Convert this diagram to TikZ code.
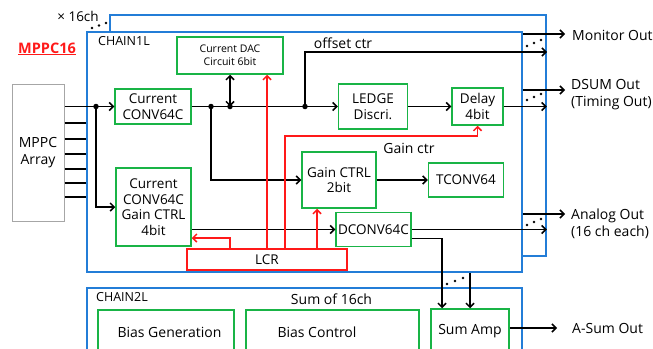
\documentclass[tikz,border=0pt]{standalone}
\usepackage{fontspec}
\setmainfont{Open Sans}
\usepackage{xcolor}
\usetikzlibrary{positioning, calc, arrows.meta}

\definecolor{grn}{RGB}{25,180,70}
\definecolor{blu}{RGB}{35,125,215}
\definecolor{rd}{RGB}{255,25,25}

\begin{document}
\begin{tikzpicture}[
        x=1pt, y=-1pt,
        blk/.style = {rectangle, draw=grn, line width=1.5pt, fill=white, align=center, inner sep=1pt, font=\fontsize{13.5}{15.5}\selectfont},
        chain/.style = {rectangle, draw=blu, line width=1.5pt, fill=white},
        lcrbox/.style = {rectangle, draw=rd, line width=1.5pt, fill=white, align=center, font=\fontsize{13.5}{15.5}\selectfont},
        sensor/.style = {rectangle, draw=gray!70, line width=1pt, align=center, font=\fontsize{14}{17}\selectfont},
        lbl/.style = {inner sep=0pt, align=left, font=\fontsize{14}{17}\selectfont},
        wire/.style = {line width=1.5pt},
        arrow/.style = {line width=1.5pt, -{Straight Barb[length=4pt, width=8pt]}},
        bidi/.style = {line width=1.5pt, {Straight Barb[length=4pt, width=8pt]}-{Straight Barb[length=4pt, width=8pt]}},
        ctrl/.style = {line width=1.5pt, draw=rd, -{Straight Barb[length=4pt, width=8pt]}},
        jdot/.style = {circle, fill=black, inner sep=0pt, minimum size=5.5pt}
    ]

    \useasboundingbox (0,0) rectangle (653,348);

    % --- CHAIN FRAMES ---
    % back copy (x16) first, front chain on top
    \node[chain, minimum width=436pt, minimum height=241pt] (chainb) at (328,135.5) {};
    \node[chain, minimum width=435pt, minimum height=240pt] (chaina) at (304.5,152) {};
    \node[chain, minimum width=435pt, minimum height=80pt, anchor=north west] (chainc) at (86,287) {};

    \node[inner sep=0pt, font=\fontsize{12.5}{14}\selectfont] (c1name) at (124,41.5) {CHAIN1L};
    \node[inner sep=0pt, font=\fontsize{12.5}{14}\selectfont] (c2name) at (122,297.5) {CHAIN2L};
    \node[anchor=base, inner sep=0pt, text=rd, font=\bfseries\fontsize{14.5}{17}\selectfont] (mppcname) at (47,53) {\underline{MPPC16}};
    \node[anchor=base, inner sep=0pt, font=\fontsize{13.5}{16}\selectfont] (nch) at (78,21) {× 16ch};

    % --- BLOCKS ---
    \node[sensor, minimum width=52pt, minimum height=137pt] (mppc) at (38,152.5) {MPPC\\Array};
    \node[blk, minimum width=76pt, minimum height=35pt] (conv) at (153,106.5) {Current\\CONV64C};
    \node[blk, minimum width=106pt, minimum height=37pt, font=\fontsize{10.5}{13}\selectfont] (dac) at (230,55.5) {Current DAC\\Circuit 6bit};
    \node[blk, minimum width=69pt, minimum height=45pt, right=146pt of conv] (ledge) {LEDGE\\Discri.};
    \node[blk, minimum width=51pt, minimum height=37pt, right=43pt of ledge] (delay) {Delay\\4bit};
    \node[blk, minimum width=74pt, minimum height=56pt] (gctrl) at (339,180) {Gain CTRL\\2bit};
    \node[blk, minimum width=75pt, minimum height=34pt, right=51pt of gctrl] (tconv) {TCONV64};
    \node[blk, minimum width=75pt, minimum height=78pt] (cgain) at (153.5,207) {Current\\CONV64C\\Gain CTRL\\4bit};
    \node[blk, minimum width=75pt, minimum height=34pt, inner sep=0pt] (dconv) at (373.5,229.5) {DCONV64C};
    \node[lcrbox, minimum width=160pt, minimum height=21pt] (lcr) at (267,259.5) {LCR};

    % Sum chain blocks (cut by the lower edge)
    \node[blk, minimum width=136pt, minimum height=44pt, font=\fontsize{14}{17}\selectfont] (biasgen) at (166,332) {\hspace*{7pt}Bias Generation};
    \node[blk, minimum width=173pt, minimum height=44pt, font=\fontsize{14}{17}\selectfont] (biasctl) at (332.5,332) {Bias Control\hspace*{31pt}};
    \node[blk, minimum width=78pt, minimum height=44pt, font=\fontsize{14}{17}\selectfont] (sum) at (470,331) {Sum Amp};

    % --- CONNECTIONS ---
    % MPPC Array -> chain inputs
    \draw[arrow] (mppc.east |- conv.west) -- (conv.west);
    \foreach \y in {123,139,154,169,183,197}
        \draw[wire] (mppc.east |- 0,\y) -- (chaina.west |- 0,\y);
    \node[jdot] (j1) at (96,0 |- conv.west) {};
    \draw[arrow] (j1.center) |- (cgain.west);

    % main signal line
    \node[jdot] (j2) at (211,0 |- conv.east) {};
    \node[jdot] (j3) at (dac.south |- conv.east) {};
    \node[jdot] (j4) at (305,0 |- conv.east) {};
    \draw[arrow] (conv) -- (ledge);
    \draw[bidi] (dac.south) -- (j3.center);
    \draw[arrow] (j2.center) |- (gctrl.west);
    \coordinate (offs) at (547,52);
    \draw[arrow] (j4.center) |- (offs);
    \draw[arrow] (ledge) -- (delay);
    \draw[arrow] (delay) -- (delay -| chainb.east);
    \draw[arrow] (gctrl) -- (tconv);
    \draw[arrow] (cgain.east |- dconv.west) -- (dconv.west);
    \draw[arrow] (dconv) -- (dconv -| chainb.east);
    \draw[arrow] ([yshift=-9pt]dconv.east) -| ([xshift=-28pt]sum.north);
    \draw[arrow] (chaina.south -| sum.north) -- (sum.north);

    % outputs
    \coordinate (mon) at (565,34);
    \coordinate (dsum) at (565,90);
    \coordinate (anl) at (565,214);
    \coordinate (asum) at (557,328);
    \draw[arrow] (chaina.east |- mon) -- (mon);
    \draw[arrow] (chaina.east |- dsum) -- (dsum);
    \draw[arrow] (chaina.east |- anl) -- (anl);
    \draw[arrow] (sum.east |- asum) -- (asum);

    \node[lbl, anchor=west] (monlbl) at (572,35) {Monitor Out};
    \node[lbl, anchor=west] (dsumlbl) at (571,95) {DSUM Out\\(Timing Out)};
    \node[lbl, anchor=west] (anllbl) at (571,224) {Analog Out\\(16 ch each)};
    \node[lbl, anchor=west] (asumlbl) at (572,328) {A-Sum Out};
    \node[inner sep=0pt, anchor=base, font=\fontsize{14}{17}\selectfont] (offlbl) at (343,48) {offset ctr};
    \node[inner sep=0pt, anchor=base, font=\fontsize{14}{17}\selectfont] (gainlbl) at (409,153) {Gain ctr};
    \node[inner sep=0pt, anchor=base, font=\fontsize{14}{17}\selectfont] (sumlbl) at (331.5,304) {Sum of 16ch};

    % LCR control lines (red)
    \coordinate (rc) at (285,136);
    \draw[ctrl] (lcr.north) -- (lcr.north |- dac.south);
    \draw[ctrl] (lcr.north -| rc) -- (rc) -| (delay.south);
    \draw[ctrl] ([xshift=-22pt]gctrl.south |- lcr.north) -- ([xshift=-22pt]gctrl.south);
    \draw[ctrl] ([xshift=-37pt]lcr.north) |- ([yshift=-31pt]cgain.east);

    % x16 dots
    \foreach \p in {(92,28),(99,25.5),(106,23),
                    (527,46),(534,43),(541,40),
                    (527,100),(534,97),(541,94),
                    (527,225),(534,222),(541,219),
                    (447,284),(455,281),(463,278)}
        \fill \p circle (1.3pt);

\end{tikzpicture}
\end{document}
